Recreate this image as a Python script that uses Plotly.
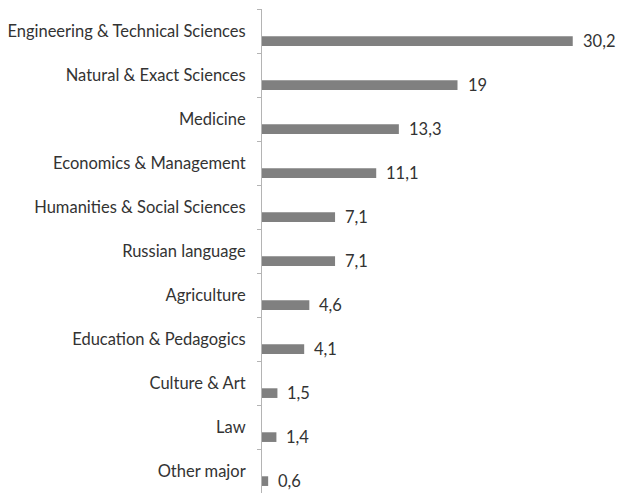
import plotly.graph_objects as go

majors = [
    "Engineering & Technical Sciences",
    "Natural & Exact Sciences",
    "Medicine",
    "Economics & Management",
    "Humanities & Social Sciences",
    "Russian language",
    "Agriculture",
    "Education & Pedagogics",
    "Culture & Art",
    "Law",
    "Other major",
]
shares = [30.2, 19, 13.3, 11.1, 7.1, 7.1, 4.6, 4.1, 1.5, 1.4, 0.6]

FONT = "Lato"
TEXT = "#333333"
BAR = "#808080"

pos = list(range(len(majors)))


def fmt(v):
    s = f"{v:g}"
    return s.replace(".", ",")


fig = go.Figure()
fig.add_trace(go.Bar(
    x=shares,
    y=pos,
    orientation="h",
    width=0.22,
    offset=0.12,
    marker=dict(color=BAR, line=dict(width=0)),
    hoverinfo="skip",
))

for p, v in zip(pos, shares):
    fig.add_annotation(
        x=v, y=p + 0.23, text=fmt(v), showarrow=False,
        xanchor="left", yanchor="middle", xshift=8,
        font=dict(family=FONT, size=16.5, color=TEXT),
    )

fig.update_layout(
    width=617, height=493,
    margin=dict(l=262, r=0, t=9, b=0),
    paper_bgcolor="white", plot_bgcolor="white",
    showlegend=False,
    font=dict(family=FONT, size=16.5, color=TEXT),
)
fig.update_xaxes(
    range=[0, 34.5], showgrid=False, zeroline=False,
    showticklabels=False, ticks="", showline=False,
)
fig.update_yaxes(
    range=[len(majors) - 0.5, -0.5],
    tickmode="array", tickvals=pos, ticktext=majors,
    ticks="", ticklabelstandoff=12,
    showgrid=False, zeroline=False,
    showline=True, linecolor="#b4b4b4", linewidth=1,
    minor=dict(tickmode="array",
               tickvals=[p - 0.5 for p in pos] + [len(majors) - 0.5],
               ticks="outside", ticklen=4, tickcolor="#b4b4b4",
               tickwidth=1, showgrid=False),
    tickfont=dict(family=FONT, size=16.5, color=TEXT),
)

fig.write_html("out.html")
